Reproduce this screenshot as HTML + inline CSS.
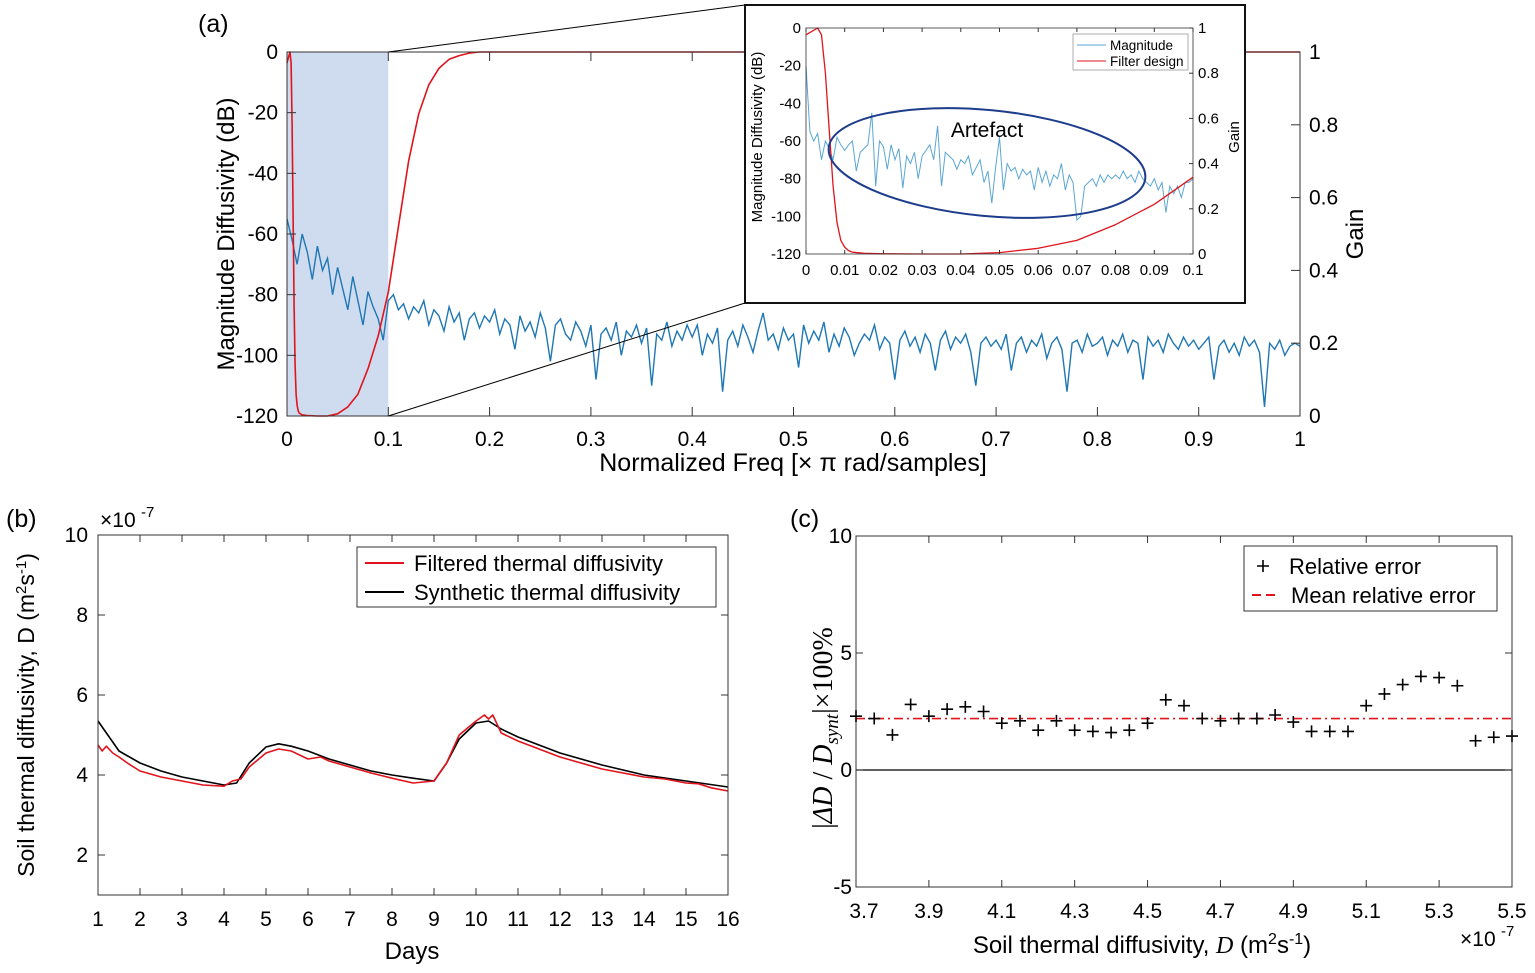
<!DOCTYPE html>
<html><head><meta charset="utf-8"><style>
body{margin:0;background:#fff}
svg{display:block;font-family:"Liberation Sans",sans-serif}
</style></head><body>
<svg id="s" width="1535" height="973" viewBox="0 0 1535 973" xmlns="http://www.w3.org/2000/svg">
<text x="198" y="32" font-size="25">(a)</text>
<text x="6" y="527" font-size="25">(b)</text>
<text x="790" y="527" font-size="25">(c)</text>
<g id="ga"></g>
<g id="gi"></g>
<g id="gb"></g>
<g id="gc"></g>
</svg>
<script>
// ---- panel (a) data ----
const magX0 = 0, magStep = 0.005;
const magDb = [-55,-62,-70,-60,-66,-75,-64,-72,-68,-80,-71,-78,-85,-74,-82,-90,-79,-84,-88,-95,
-82,-80,-85,-83,-88,-84,-86,-82,-90,-85,-87,-92,-84,-89,-86,-95,-88,-86,-91,-87,
-89,-85,-93,-88,-90,-98,-87,-92,-89,-94,-86,-91,-102,-90,-88,-93,-95,-89,-92,-97,
-90,-108,-93,-91,-95,-89,-100,-92,-94,-90,-96,-91,-110,-93,-95,-89,-97,-92,-95,-90,
-94,-90,-100,-93,-96,-91,-112,-95,-92,-97,-90,-94,-99,-92,-86,-95,-93,-98,-91,-95,
-93,-104,-90,-96,-92,-95,-89,-99,-93,-97,-91,-94,-100,-96,-93,-95,-90,-98,-94,-96,
-108,-95,-92,-97,-94,-99,-93,-96,-105,-95,-92,-98,-94,-96,-93,-99,-110,-96,-94,-97,
-95,-98,-93,-105,-96,-94,-99,-95,-97,-93,-101,-96,-94,-98,-112,-96,-95,-99,-93,-97,
-96,-94,-100,-95,-97,-93,-99,-95,-96,-108,-94,-97,-95,-99,-93,-96,-98,-94,-97,-95,
-98,-96,-94,-108,-97,-95,-99,-96,-100,-94,-97,-95,-99,-117,-96,-98,-95,-100,-97,-96,-97];
const gainX = [0,0.002,0.003,0.004,0.005,0.006,0.007,0.008,0.009,0.01,0.011,0.012,0.015,0.02,0.03,0.04,0.05,0.06,0.07,0.08,0.09,0.1,0.11,0.12,0.13,0.14,0.15,0.16,0.17,0.18,0.19,0.2,1];
const gainY = [0.97,0.99,1.0,0.97,0.8,0.55,0.3,0.14,0.06,0.03,0.015,0.008,0.003,0.001,0,0,0.006,0.025,0.06,0.13,0.22,0.34,0.52,0.7,0.83,0.91,0.955,0.98,0.99,0.997,1,1,1];
const aXTicks = [0,0.1,0.2,0.3,0.4,0.5,0.6,0.7,0.8,0.9,1];
const aYTicks = [0,-20,-40,-60,-80,-100,-120];
const aGainTicks = [0,0.2,0.4,0.6,0.8,1];
// ---- inset data ----
const insStep = 0.001;
const insDb = [-20,-55,-60,-56,-70,-60,-64,-70,-58,-62,-65,-62,-60,-76,-66,-64,-62,-45,-84,-60,
-63,-75,-62,-70,-64,-85,-68,-72,-66,-80,-68,-65,-62,-70,-52,-84,-66,-68,-70,-75,
-70,-72,-68,-78,-74,-70,-82,-76,-93,-74,-58,-86,-72,-76,-74,-80,-75,-78,-76,-86,
-74,-82,-76,-84,-78,-80,-72,-86,-78,-82,-102,-100,-84,-82,-80,-84,-78,-82,-78,-80,
-78,-80,-76,-80,-78,-82,-76,-80,-82,-84,-80,-86,-82,-98,-84,-88,-84,-90,-82,-82,-80];
const iXTicks = [0,0.01,0.02,0.03,0.04,0.05,0.06,0.07,0.08,0.09,0.1];
const iYTicks = [0,-20,-40,-60,-80,-100,-120];
const iGainTicks = [0,0.2,0.4,0.6,0.8,1];
// ---- panel (b) data ----
const synDays = [1,1.5,2,2.5,3,3.5,4,4.3,4.6,5,5.3,5.6,6,6.5,7,7.5,8,8.5,9,9.3,9.6,10,10.3,10.6,11,12,13,14,15,16];
const synVal = [5.35,4.6,4.3,4.1,3.95,3.85,3.75,3.8,4.3,4.7,4.78,4.72,4.6,4.4,4.25,4.1,4.0,3.92,3.85,4.3,4.9,5.3,5.35,5.15,4.95,4.55,4.25,4.0,3.85,3.7];
const filDays = [1,1.1,1.2,1.35,1.5,1.7,2,2.5,3,3.5,4,4.2,4.4,4.6,5,5.3,5.6,6,6.3,6.5,7,7.5,8,8.5,9,9.3,9.6,10,10.2,10.3,10.4,10.6,11,12,13,14,14.5,15,15.3,15.6,16];
const filVal = [4.75,4.6,4.72,4.55,4.45,4.3,4.1,3.95,3.85,3.75,3.72,3.85,3.9,4.2,4.55,4.65,4.6,4.4,4.45,4.35,4.2,4.05,3.92,3.8,3.85,4.3,5.0,5.35,5.5,5.4,5.5,5.05,4.85,4.45,4.15,3.95,3.9,3.8,3.78,3.68,3.6];
const bXTicks = [1,2,3,4,5,6,7,8,9,10,11,12,13,14,15,16];
const bYTicks = [2,4,6,8,10];
// ---- panel (c) data ----
const relD = [3.7,3.75,3.8,3.85,3.9,3.95,4.0,4.05,4.1,4.15,4.2,4.25,4.3,4.35,4.4,4.45,4.5,4.55,4.6,4.65,4.7,4.75,4.8,4.85,4.9,4.95,5.0,5.05,5.1,5.15,5.2,5.25,5.3,5.35,5.4,5.45,5.5];
const relErr = [2.3,2.2,1.5,2.8,2.3,2.6,2.7,2.5,2.0,2.1,1.7,2.1,1.7,1.65,1.6,1.7,2.0,3.0,2.75,2.2,2.1,2.2,2.2,2.35,2.05,1.65,1.65,1.65,2.75,3.25,3.65,4.0,3.95,3.6,1.25,1.4,1.45];
const meanErr = [2.2];
const cXTicks = [3.7,3.9,4.1,4.3,4.5,4.7,4.9,5.1,5.3,5.5];
const cYTicks = [-5,0,5,10];

const NS = "http://www.w3.org/2000/svg";
function mk(parent, tag, attrs, text){
  const e = document.createElementNS(NS, tag);
  for (const k in attrs) e.setAttribute(k, attrs[k]);
  if (text !== undefined) e.textContent = text;
  parent.appendChild(e);
  return e;
}
function lin(d0,d1,r0,r1){ return v => r0 + (v-d0)/(d1-d0)*(r1-r0); }
function pathD(xs, ys, fx, fy){ return xs.map((x,i)=>(i?'L':'M')+fx(x).toFixed(1)+' '+fy(ys[i]).toFixed(1)).join(''); }

// ===== panel a =====
const ga = document.getElementById('ga');
const ax = lin(0,1,287,1300), ay = lin(0,-120,52,416), ag = lin(0,1,416,52);
let el;
el = mk(ga,'rect',{x:ax(0),y:52,width:ax(0.1)-ax(0),height:364,fill:'#cfdcef'});


const magXs = magDb.map((v,i)=>magX0+i*magStep);
el = mk(ga,'path',{d:pathD(magXs,magDb,ax,ay),fill:'none',stroke:'#1f77b4',"stroke-width":1.4});


el = mk(ga,'path',{d:pathD(gainX,gainY,ax,ag),fill:'none',stroke:'#e0141c',"stroke-width":1.6,"stroke-linejoin":"round"});


el = mk(ga,'rect',{x:287,y:52,width:1013,height:364,fill:'none',stroke:'#333',"stroke-width":1});


aXTicks.forEach(t=>{
  mk(ga,'line',{x1:ax(t),x2:ax(t),y1:416,y2:407,stroke:'#333'});
  mk(ga,'line',{x1:ax(t),x2:ax(t),y1:52,y2:61,stroke:'#333'});
  el = mk(ga,'text',{x:ax(t),y:446,"font-size":21,"text-anchor":"middle"},String(t));
  
  
});
aYTicks.forEach(t=>{
  mk(ga,'line',{x1:287,x2:296,y1:ay(t),y2:ay(t),stroke:'#333'});
  el = mk(ga,'text',{x:278,y:ay(t)+7,"font-size":21,"text-anchor":"end"},String(t));
  
  
});
aGainTicks.forEach(t=>{
  mk(ga,'line',{x1:1300,x2:1291,y1:ag(t),y2:ag(t),stroke:'#333'});
  el = mk(ga,'text',{x:1309,y:ag(t)+7,"font-size":21},String(t));
  
  
});
el = mk(ga,'text',{x:0,y:0,"font-size":24,"text-anchor":"middle",transform:"translate(234,234) rotate(-90)"},'Magnitude Diffusivity (dB)');


el = mk(ga,'text',{x:0,y:0,"font-size":24,"text-anchor":"middle",transform:"translate(1363,234) rotate(-90)"},'Gain');


el = mk(ga,'text',{x:793,y:471,"font-size":25,"text-anchor":"middle"},'Normalized Freq [× π rad/samples]');


mk(ga,'line',{x1:ax(0.1),y1:52,x2:745,y2:5,stroke:'#000'});
mk(ga,'line',{x1:ax(0.1),y1:416,x2:745,y2:303,stroke:'#000'});

// ===== inset =====
const gi = document.getElementById('gi');
el = mk(gi,'rect',{x:745,y:5,width:500,height:298,fill:'#fff',stroke:'#111',"stroke-width":2});


const ix = lin(0,0.1,806,1193), iy = lin(0,-120,28,254), ig = lin(0,1,254,28);
const insXs = insDb.map((v,i)=>i*insStep);
el = mk(gi,'path',{d:pathD(insXs,insDb,ix,iy),fill:'none',stroke:'#5aa6d4',"stroke-width":1});


const gx2=[], gy2=[];
gainX.forEach((x,i)=>{ if(x<=0.1){gx2.push(x);gy2.push(gainY[i]);} });
el = mk(gi,'path',{d:pathD(gx2,gy2,ix,ig),fill:'none',stroke:'#e0141c',"stroke-width":1.3,"stroke-linejoin":"round"});


mk(gi,'rect',{x:806,y:28,width:387,height:226,fill:'none',stroke:'#333',"stroke-width":0.8});
iXTicks.forEach(t=>{
  mk(gi,'line',{x1:ix(t),x2:ix(t),y1:254,y2:250,stroke:'#333'});
  mk(gi,'line',{x1:ix(t),x2:ix(t),y1:28,y2:32,stroke:'#333'});
  el = mk(gi,'text',{x:ix(t),y:275,"font-size":15,"text-anchor":"middle"},String(t));
  
  
});
iYTicks.forEach(t=>{
  el = mk(gi,'text',{x:801,y:iy(t)+5,"font-size":15,"text-anchor":"end"},String(t));
  
  
});
iGainTicks.forEach(t=>{
  mk(gi,'line',{x1:1193,x2:1189,y1:ig(t),y2:ig(t),stroke:'#333'});
  el = mk(gi,'text',{x:1198,y:ig(t)+5,"font-size":15},String(t));
  
  
});
el = mk(gi,'text',{x:0,y:0,"font-size":15,"text-anchor":"middle",transform:"translate(762,137) rotate(-90)"},'Magnitude Diffusivity (dB)');


el = mk(gi,'text',{x:0,y:0,"font-size":15,"text-anchor":"middle",transform:"translate(1239,137) rotate(-90)"},'Gain');


el = mk(gi,'ellipse',{cx:987,cy:163,rx:159,ry:53,fill:'none',stroke:'#1e3c8c',"stroke-width":2,transform:"rotate(5.5 987 163)"});


el = mk(gi,'text',{x:987,y:137,"font-size":21,"text-anchor":"middle"},'Artefact');


el = mk(gi,'rect',{x:1073,y:34,width:115,height:36,fill:'#fff',stroke:'#999',"stroke-width":0.8});


mk(gi,'line',{x1:1077,x2:1106,y1:45,y2:45,stroke:'#5aa6d4'});
mk(gi,'text',{x:1110,y:50,"font-size":13.5},'Magnitude');
mk(gi,'line',{x1:1077,x2:1106,y1:61,y2:61,stroke:'#e0141c'});
mk(gi,'text',{x:1110,y:66,"font-size":13.5},'Filter design');

// ===== panel b =====
const gb = document.getElementById('gb');
const bx = lin(1,16,98,728), by = lin(1,10,895,535);
el = mk(gb,'path',{d:pathD(synDays,synVal,bx,by),fill:'none',stroke:'#000',"stroke-width":1.6,"stroke-linejoin":"round"});


el = mk(gb,'path',{d:pathD(filDays,filVal,bx,by),fill:'none',stroke:'#e0141c',"stroke-width":1.6,"stroke-linejoin":"round"});


mk(gb,'rect',{x:98,y:535,width:630,height:360,fill:'none',stroke:'#333'});
bXTicks.forEach(t=>{
  mk(gb,'line',{x1:bx(t),x2:bx(t),y1:895,y2:888,stroke:'#333'});
  mk(gb,'line',{x1:bx(t),x2:bx(t),y1:535,y2:542,stroke:'#333'});
  el = mk(gb,'text',{x:bx(t),y:926,"font-size":21,"text-anchor":"middle"},String(t));
  
  
});
bYTicks.forEach(t=>{
  mk(gb,'line',{x1:98,x2:105,y1:by(t),y2:by(t),stroke:'#333'});
  mk(gb,'line',{x1:728,x2:721,y1:by(t),y2:by(t),stroke:'#333'});
  el = mk(gb,'text',{x:88,y:by(t)+7,"font-size":21,"text-anchor":"end"},String(t));
  
  
});
el = mk(gb,'text',{x:100,y:527,"font-size":21},'×10');


mk(gb,'text',{x:141,y:517,"font-size":15},'-7');
el = mk(gb,'text',{x:412,y:959,"font-size":24,"text-anchor":"middle"},'Days');


el = mk(gb,'text',{x:0,y:0,"font-size":23,"text-anchor":"middle",transform:"translate(34,715) rotate(-90)"});


el.innerHTML='Soil thermal diffusivity, D (m<tspan dy="-8" font-size="15">2</tspan><tspan dy="8">s</tspan><tspan dy="-8" font-size="15">-1</tspan><tspan dy="8">)</tspan>';
el = mk(gb,'rect',{x:357,y:547,width:359,height:60,fill:'#fff',stroke:'#333'});


mk(gb,'line',{x1:365,x2:404,y1:563,y2:563,stroke:'#e0141c',"stroke-width":2});
mk(gb,'text',{x:414,y:571,"font-size":22},'Filtered thermal diffusivity');
mk(gb,'line',{x1:365,x2:404,y1:592,y2:592,stroke:'#000',"stroke-width":2});
mk(gb,'text',{x:414,y:600,"font-size":22},'Synthetic thermal diffusivity');

// ===== panel c =====
const gc = document.getElementById('gc');
const cx = lin(3.7,5.5,856,1512), cy = lin(-5,10,887,536);
mk(gc,'rect',{x:856,y:536,width:656,height:351,fill:'none',stroke:'#333'});
el = mk(gc,'line',{x1:856,x2:1512,y1:cy(0),y2:cy(0),stroke:'#000',"stroke-width":1.2});


el = mk(gc,'line',{x1:856,x2:1512,y1:cy(meanErr[0]),y2:cy(meanErr[0]),stroke:'#e0141c',"stroke-width":1.6,"stroke-dasharray":"9 4 2 4"});


relD.forEach((d,i)=>{
  const X=cx(d), Y=cy(relErr[i]);
  const p = mk(gc,'path',{d:`M${X-6} ${Y}H${X+6}M${X} ${Y-6}V${Y+6}`,stroke:'#000',"stroke-width":1.6});
  
  
});
cXTicks.forEach(t=>{
  mk(gc,'line',{x1:cx(t),x2:cx(t),y1:887,y2:880,stroke:'#333'});
  mk(gc,'line',{x1:cx(t),x2:cx(t),y1:536,y2:543,stroke:'#333'});
  el = mk(gc,'text',{x:cx(t)+(t===3.7?8:0),y:918,"font-size":21,"text-anchor":"middle"},t.toFixed(1));
  
  
});
cYTicks.forEach(t=>{
  mk(gc,'line',{x1:856,x2:863,y1:cy(t),y2:cy(t),stroke:'#333'});
  mk(gc,'line',{x1:1512,x2:1505,y1:cy(t),y2:cy(t),stroke:'#333'});
  el = mk(gc,'text',{x:852,y:cy(t)+7,"font-size":21,"text-anchor":"end"},String(t));
  
  
});
el = mk(gc,'text',{x:1460,y:946,"font-size":21},'×10');


mk(gc,'text',{x:1501,y:936,"font-size":15},'-7');
el = mk(gc,'text',{x:1142,y:953,"font-size":24,"text-anchor":"middle"});


el.innerHTML='Soil thermal diffusivity, <tspan font-style="italic" font-family="Liberation Serif">D</tspan>  (m<tspan dy="-9" font-size="16">2</tspan><tspan dy="9">s</tspan><tspan dy="-9" font-size="16">-1</tspan><tspan dy="9">)</tspan>';
el = mk(gc,'text',{x:0,y:0,"font-size":28,"text-anchor":"middle","font-family":"Liberation Serif",transform:"translate(832,728) rotate(-90)"});


el.innerHTML='|<tspan font-style="italic">ΔD</tspan> / <tspan font-style="italic">D</tspan><tspan font-style="italic" font-size="19" dy="6">synt</tspan><tspan dy="-6">|×100%</tspan>';
el = mk(gc,'rect',{x:1244,y:546,width:253,height:65,fill:'#fff',stroke:'#333'});


mk(gc,'path',{d:'M1257 566H1269M1263 560V572',stroke:'#000',"stroke-width":1.6});
mk(gc,'text',{x:1289,y:574,"font-size":22},'Relative error');
mk(gc,'line',{x1:1252,x2:1278,y1:595,y2:595,stroke:'#e0141c',"stroke-width":2,"stroke-dasharray":"9 5"});
mk(gc,'text',{x:1291,y:603,"font-size":22},'Mean relative error');
</script>
</body></html>
